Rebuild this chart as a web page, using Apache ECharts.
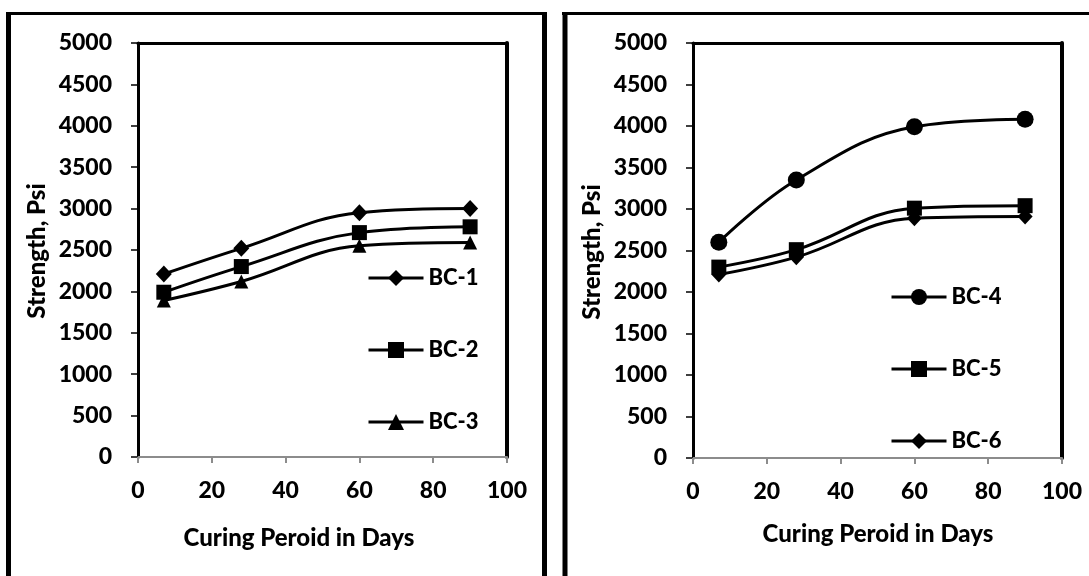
<!DOCTYPE html>
<html>
<head>
<meta charset="utf-8">
<script src="https://cdn.jsdelivr.net/npm/echarts@6/dist/echarts.min.js"></script>
<style>
  html, body { margin: 0; padding: 0; background: #fff; }
  #chart { width: 1089px; height: 576px; }
</style>
</head>
<body>
<div id="chart"></div>
<script>
// Curing period (days) at which each mix was tested
const days = [7, 28, 60, 90];

// Compressive strength (psi) per mix
const bc1 = [2210, 2520, 2950, 3000];
const bc2 = [1990, 2300, 2710, 2780];
const bc3 = [1890, 2120, 2550, 2590];
const bc4 = [2600, 3350, 3990, 4080];
const bc5 = [2300, 2510, 3010, 3040];
const bc6 = [2210, 2420, 2890, 2910];

const leftNames = ['BC-1', 'BC-2', 'BC-3'];
const rightNames = ['BC-4', 'BC-5', 'BC-6'];

// Axis ranges
const xMin = 0, xMax = 100, xStep = 20;
const yMin = 0, yMax = 5000, yStep = 500;

const xTitle = 'Curing Peroid in Days';
const yTitle = 'Strength, Psi';

const FONT = 'Lato, "Open Sans", sans-serif';
const WEIGHT = 900;

const pairs = vals => days.map((d, i) => [d, vals[i]]);

const grids = [
  { left: 138, top: 43, width: 369, height: 414 },
  { left: 693, top: 43, width: 369, height: 415 }
];

function mainX(gi) {
  return {
    type: 'value', gridIndex: gi, min: xMin, max: xMax, interval: xStep,
    axisLine: { show: true, onZero: false, lineStyle: { color: '#8c8c8c', width: 2 } },
    axisTick: { show: true, inside: false, length: 6, lineStyle: { color: '#8c8c8c', width: 2 } },
    axisLabel: { color: '#000', fontFamily: FONT, fontWeight: WEIGHT, fontSize: 23, margin: 22,
                 formatter: v => String(v) },
    splitLine: { show: false }
  };
}
function frameX(gi) {
  return {
    type: 'value', gridIndex: gi, position: 'top', min: xMin, max: xMax,
    axisLine: { show: true, onZero: false, lineStyle: { color: '#000', width: 3 } },
    axisTick: { show: false }, axisLabel: { show: false }, splitLine: { show: false }
  };
}
function mainY(gi) {
  return {
    type: 'value', gridIndex: gi, min: yMin, max: yMax, interval: yStep,
    axisLine: { show: true, onZero: false, lineStyle: { color: '#000', width: 3 } },
    axisTick: { show: true, length: 7, lineStyle: { color: '#000', width: 1.5 } },
    axisLabel: { color: '#000', fontFamily: FONT, fontWeight: WEIGHT, fontSize: 23, margin: 26,
                 formatter: v => String(v) },
    splitLine: { show: false }
  };
}
function frameY(gi) {
  return {
    type: 'value', gridIndex: gi, position: 'right', min: yMin, max: yMax,
    axisLine: { show: true, onZero: false, lineStyle: { color: '#000', width: 4 } },
    axisTick: { show: false }, axisLabel: { show: false }, splitLine: { show: false }
  };
}

function lineSeries(name, vals, gi, symbol, size) {
  return {
    name, type: 'line', xAxisIndex: gi * 2, yAxisIndex: gi * 2,
    data: pairs(vals), smooth: 0.4,
    symbol, symbolSize: size,
    lineStyle: { color: '#000', width: 3 },
    itemStyle: { color: '#000' },
    z: 3
  };
}

function legend(names, left, top) {
  return {
    data: names, orient: 'vertical', left, top, padding: 0,
    itemWidth: 55, itemHeight: 20, itemGap: 50,
    lineStyle: { width: 3, color: '#000' },
    textStyle: { color: '#000', fontFamily: FONT, fontWeight: WEIGHT, fontSize: 22, lineHeight: 20 },
    inactiveColor: '#000'
  };
}

const titleText = (x, y, text, rotation) => ({
  type: 'text', x, y, rotation: rotation || 0,
  style: {
    text, fill: '#000', font: WEIGHT + ' 24px ' + FONT,
    textAlign: 'center', textVerticalAlign: 'middle'
  }
});

const vLine = (x, y1, y2, w) => ({
  type: 'line', shape: { x1: x, y1, x2: x, y2 }, style: { stroke: '#000', lineWidth: w }
});
const hLine = (y, x1, x2, w) => ({
  type: 'line', shape: { x1, y1: y, x2, y2: y }, style: { stroke: '#000', lineWidth: w }
});

const chart = echarts.init(document.getElementById('chart'), null, { renderer: 'canvas' });
chart.setOption({
  animation: false,
  backgroundColor: '#fff',
  grid: grids,
  xAxis: [mainX(0), frameX(0), mainX(1), frameX(1)],
  yAxis: [mainY(0), frameY(0), mainY(1), frameY(1)],
  legend: [legend(leftNames, 367, 267), legend(rightNames, 890, 286)],
  series: [
    lineSeries('BC-1', bc1, 0, 'diamond', [16, 17]),
    lineSeries('BC-2', bc2, 0, 'rect', 15),
    lineSeries('BC-3', bc3, 0, 'triangle', 14),
    lineSeries('BC-4', bc4, 1, 'circle', 17),
    lineSeries('BC-5', bc5, 1, 'rect', 15),
    lineSeries('BC-6', bc6, 1, 'diamond', [15, 16])
  ],
  graphic: [
    // panel frames (open at the bottom edge)
    vLine(8.5, 12, 600, 5), hLine(13.5, 6, 547, 3), vLine(544.5, 12, 600, 5),
    vLine(565, 12, 600, 5), hLine(13.5, 562, 1100, 3),
    // axis titles
    titleText(299, 538, xTitle),
    titleText(878, 534, xTitle),
    titleText(37, 251, yTitle, Math.PI / 2),
    titleText(592, 252, yTitle, Math.PI / 2)
  ]
});
</script>
</body>
</html>
